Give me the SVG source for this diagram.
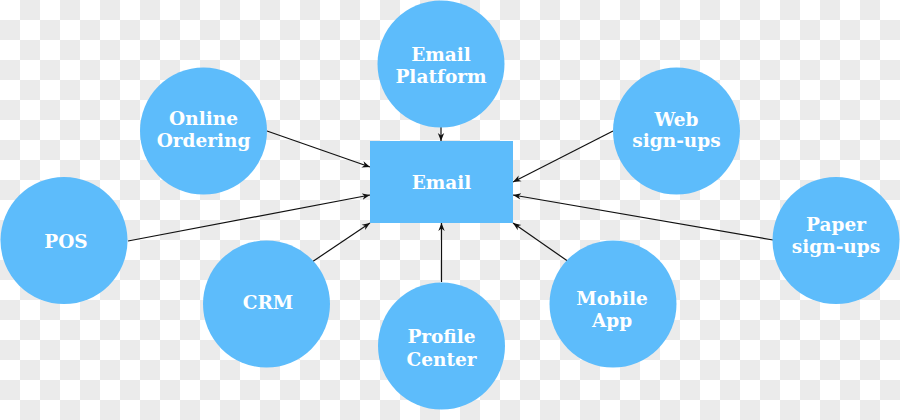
<svg xmlns="http://www.w3.org/2000/svg" width="900" height="420" viewBox="0 0 900 420">
<defs>
<pattern id="checker" width="40" height="40" patternUnits="userSpaceOnUse">
<rect width="40" height="40" fill="#ffffff"/>
<rect x="20" y="0" width="20" height="20" fill="#ebebeb"/>
<rect x="0" y="20" width="20" height="20" fill="#ebebeb"/>
</pattern>
<marker id="arr" viewBox="0 0 10 10" refX="10" refY="5" markerWidth="8" markerHeight="8" markerUnits="userSpaceOnUse" orient="auto">
<path d="M0,1 L10,5 L0,9 L3,5 Z" fill="#111"/>
</marker>
</defs>
<style>
.node{fill:#5dbcfb;}
.lbl{fill:#ffffff;font-family:"DejaVu Serif","Liberation Serif",serif;font-weight:bold;font-size:18.5px;text-anchor:middle;}
.conn{stroke:#111;stroke-width:1.2;fill:none;marker-end:url(#arr);}
</style>
<rect width="900" height="420" fill="url(#checker)"/>
<g id="connectors">
<line class="conn" x1="441" y1="127" x2="441" y2="141"/>
<line class="conn" x1="267" y1="131" x2="370" y2="167"/>
<line class="conn" x1="128" y1="241" x2="370" y2="195"/>
<line class="conn" x1="312" y1="262" x2="370" y2="223"/>
<line class="conn" x1="441.5" y1="282" x2="441.5" y2="223"/>
<line class="conn" x1="569" y1="262" x2="513" y2="223"/>
<line class="conn" x1="613" y1="131" x2="513" y2="182"/>
<line class="conn" x1="773" y1="240" x2="513" y2="195"/>
</g>
<g id="email">
<rect class="node" x="370" y="141" width="143" height="82"/>
<text class="lbl" x="441.5" y="189">Email</text>
</g>
<g id="email-platform">
<circle class="node" cx="441" cy="64" r="63.5"/>
<text class="lbl" x="441" y="61">Email</text>
<text class="lbl" x="441" y="83">Platform</text>
</g>
<g id="online-ordering">
<circle class="node" cx="203.5" cy="131" r="63.5"/>
<text class="lbl" x="203.5" y="125">Online</text>
<text class="lbl" x="203.5" y="147">Ordering</text>
</g>
<g id="pos">
<circle class="node" cx="64" cy="240.5" r="63.5"/>
<text class="lbl" x="66" y="248">POS</text>
</g>
<g id="crm">
<circle class="node" cx="266.5" cy="304" r="63.5"/>
<text class="lbl" x="268" y="309">CRM</text>
</g>
<g id="profile-center">
<circle class="node" cx="441.5" cy="346" r="63.5"/>
<text class="lbl" x="441.5" y="343">Profile</text>
<text class="lbl" x="441.5" y="366">Center</text>
</g>
<g id="mobile-app">
<circle class="node" cx="613" cy="304" r="63.5"/>
<text class="lbl" x="612" y="305">Mobile</text>
<text class="lbl" x="612" y="327">App</text>
</g>
<g id="web-signups">
<circle class="node" cx="676.5" cy="131" r="63.5"/>
<text class="lbl" x="676.5" y="126">Web</text>
<text class="lbl" x="676.5" y="147">sign-ups</text>
</g>
<g id="paper-signups">
<circle class="node" cx="836" cy="240.5" r="63.5"/>
<text class="lbl" x="836" y="231">Paper</text>
<text class="lbl" x="836" y="253">sign-ups</text>
</g>
</svg>
